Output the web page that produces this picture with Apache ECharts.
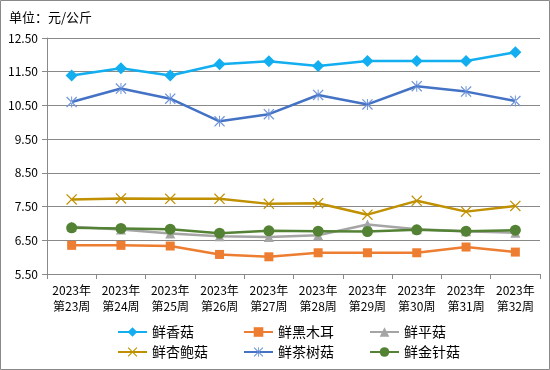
<!DOCTYPE html>
<html><head><meta charset="utf-8">
<script src="https://cdn.jsdelivr.net/npm/echarts@6/dist/echarts.min.js"></script>
<style>html,body{margin:0;padding:0;background:#fff}#c{width:550px;height:370px}</style>
</head><body><div id="c"></div>
<script>
const categories = ['2023年\n第23周','2023年\n第24周','2023年\n第25周','2023年\n第26周','2023年\n第27周','2023年\n第28周','2023年\n第29周','2023年\n第30周','2023年\n第31周','2023年\n第32周'];
const xianggu   = [11.39, 11.60, 11.39, 11.72, 11.81, 11.67, 11.82, 11.82, 11.82, 12.08];
const heimuer   = [6.35, 6.35, 6.33, 6.08, 6.01, 6.13, 6.13, 6.13, 6.30, 6.15];
const pinggu    = [6.90, 6.82, 6.70, 6.62, 6.60, 6.65, 6.97, 6.83, 6.77, 6.72];
const xingbaogu = [7.71, 7.74, 7.73, 7.73, 7.58, 7.60, 7.26, 7.67, 7.35, 7.52];
const chashugu  = [10.60, 11.00, 10.70, 10.03, 10.24, 10.81, 10.53, 11.07, 10.91, 10.63];
const jinzhengu = [6.87, 6.85, 6.83, 6.71, 6.78, 6.77, 6.76, 6.81, 6.77, 6.80];
const yTicks = [5.5, 6.5, 7.5, 8.5, 9.5, 10.5, 11.5, 12.5];

const X_PATH = 'path://M0,0.8 L0.8,0 L5,4.2 L9.2,0 L10,0.8 L5.8,5 L10,9.2 L9.2,10 L5,5.8 L0.8,10 L0,9.2 L4.2,5 Z';
const AST_PATH = 'path://M0,0.8 L0.8,0 L5,4.2 L9.2,0 L10,0.8 L5.8,5 L10,9.2 L9.2,10 L5,5.8 L0.8,10 L0,9.2 L4.2,5 Z M4.55,0 L4.55,10 L5.45,10 L5.45,0 Z';

const font = '"Noto Sans CJK SC", "Noto Sans", sans-serif';
function mk(name, data, color, symbol, size, symColor) {
  return {
    name, type: 'line', data, symbol, symbolSize: size,
    lineStyle: { color, width: 2.5 },
    itemStyle: { color: symColor || color },
    emphasis: { disabled: true }
  };
}
const chart = echarts.init(document.getElementById('c'), null, { renderer: 'canvas' });
const legendCommon = {
  orient: 'vertical', top: 320, itemGap: 6, itemWidth: 29, itemHeight: 12,
  textStyle: { fontSize: 14, color: '#000', fontFamily: font }
};
chart.setOption({
  animation: false,
  graphic: [{ type: 'rect', shape: { x: 0.5, y: 0.5, width: 549, height: 369 }, style: { fill: 'none', stroke: '#898989', lineWidth: 1 } }],
  title: { text: '单位：元/公斤', left: 4, top: 6, textStyle: { fontSize: 13, fontWeight: 'normal', color: '#000', fontFamily: font } },
  grid: { left: 47, right: 10, top: 38, bottom: 96 },
  legend: [
    Object.assign({ left: 112, data: ['鲜香菇', '鲜杏鲍菇'] }, legendCommon),
    Object.assign({ left: 238, data: ['鲜黑木耳', '鲜茶树菇'] }, legendCommon),
    Object.assign({ left: 364, data: ['鲜平菇', '鲜金针菇'] }, legendCommon)
  ],
  xAxis: {
    type: 'category', data: categories, boundaryGap: true,
    axisLine: { lineStyle: { color: '#898989' } },
    axisTick: { show: true, length: 5, lineStyle: { color: '#898989' } },
    axisLabel: { color: '#000', fontSize: 12, fontFamily: font, lineHeight: 16, margin: 8, interval: 0 }
  },
  yAxis: {
    type: 'value', min: yTicks[0], max: yTicks[yTicks.length - 1], interval: 1,
    axisLine: { show: true, lineStyle: { color: '#898989' } },
    axisTick: { show: true, length: 5, lineStyle: { color: '#898989' } },
    splitLine: { lineStyle: { color: '#898989' } },
    axisLabel: { color: '#000', fontSize: 12, fontFamily: font, margin: 9, formatter: v => v.toFixed(2) }
  },
  series: [
    mk('鲜香菇', xianggu, '#12AEEF', 'diamond', 12),
    mk('鲜黑木耳', heimuer, '#ED7D31', 'rect', 9),
    mk('鲜平菇', pinggu, '#A5A5A5', 'triangle', 10),
    mk('鲜杏鲍菇', xingbaogu, '#C09000', X_PATH, 11),
    mk('鲜茶树菇', chashugu, '#4472C4', AST_PATH, 11, '#6F95DB'),
    mk('鲜金针菇', jinzhengu, '#548235', 'circle', 11)
  ]
});
</script></body></html>
